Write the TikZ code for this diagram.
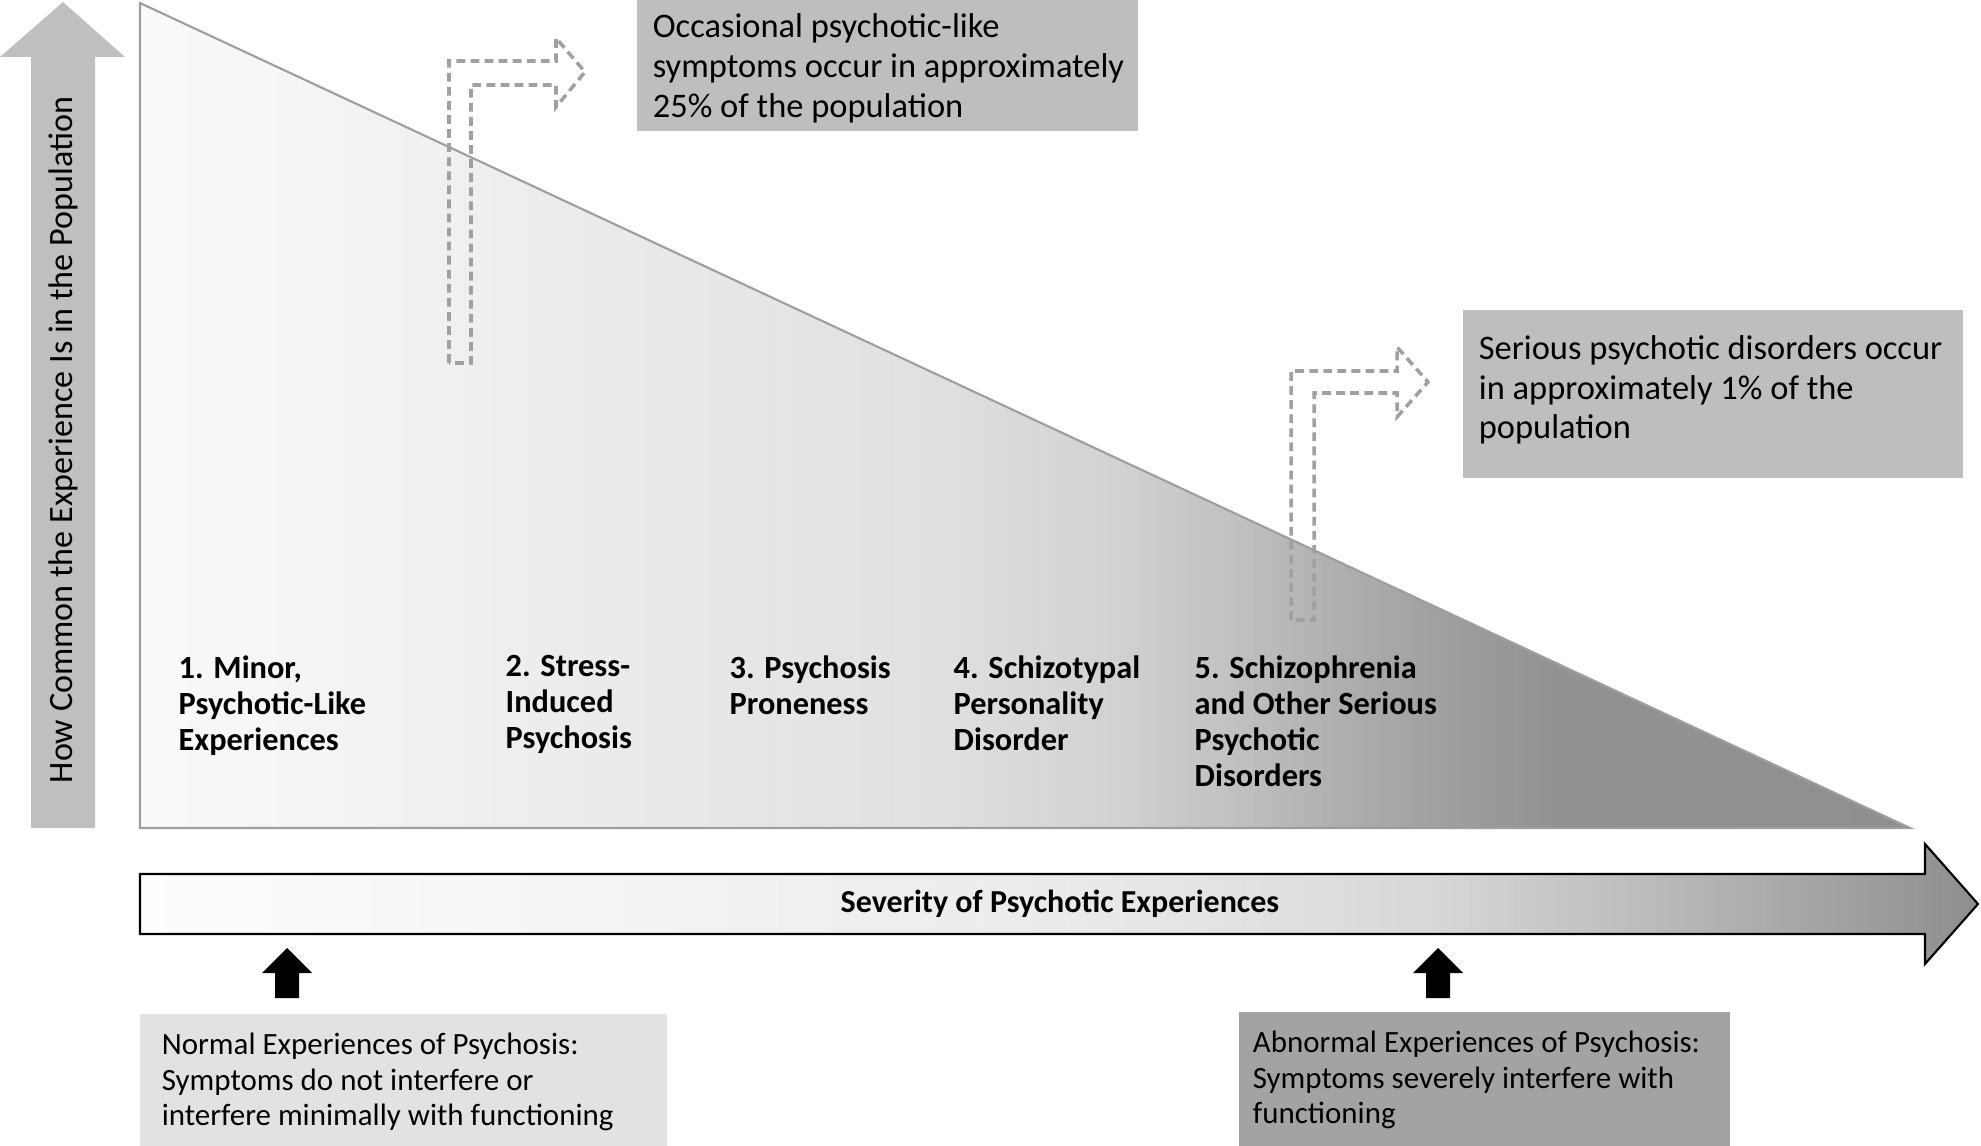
\documentclass[tikz,border=0pt]{standalone}
\usepackage{fontspec}
\setmainfont{Carlito}
\usetikzlibrary{positioning}

\definecolor{axisgray}{HTML}{BFBFBF}
\definecolor{boxgray}{HTML}{BEBEBE}
\definecolor{lightbox}{HTML}{E2E2E2}
\definecolor{darkbox}{HTML}{A3A3A3}
\definecolor{dashgray}{HTML}{A0A0A0}
\definecolor{edgegray}{HTML}{9E9E9E}
% gradient stops
\definecolor{ta}{HTML}{FAFAFA}
\definecolor{tb}{HTML}{EBEBEB}
\definecolor{tc}{HTML}{E0E0E0}
\definecolor{td}{HTML}{D2D2D2}
\definecolor{te}{HTML}{C0C0C0}
\definecolor{tf}{HTML}{AEAEAE}
\definecolor{tg}{HTML}{9C9C9C}
\definecolor{th}{HTML}{929292}
\definecolor{ti}{HTML}{8F8F8F}
\definecolor{ba}{HTML}{FDFDFD}
\definecolor{bb}{HTML}{EBEBEB}
\definecolor{bc}{HTML}{D8D8D8}
\definecolor{bd}{HTML}{B4B4B4}
\definecolor{be}{HTML}{8E8E8E}

\pgfdeclarehorizontalshading{trishade}{100bp}{color(0bp)=(ta); color(25bp)=(ta);
  color(38bp)=(tb); color(47.5bp)=(tc); color(52.5bp)=(td); color(56bp)=(te);
  color(59bp)=(tf); color(62.5bp)=(tg); color(65bp)=(th); color(75bp)=(ti); color(100bp)=(ti)}
\pgfdeclarehorizontalshading{barshade}{100bp}{color(0bp)=(ba); color(25bp)=(ba);
  color(50bp)=(bb); color(60bp)=(bc); color(67.5bp)=(bd); color(75bp)=(be); color(100bp)=(be)}

\newcommand\topfont{\fontsize{9.8}{11.3}\selectfont}
\newcommand\lowfont{\fontsize{8.8}{10.1}\selectfont}
\newcommand\stagefont{\fontsize{9.2}{10.2}\selectfont\bfseries}
\newcommand\barfont{\fontsize{9.1}{11}\selectfont\bfseries}
\newcommand\axisfont{\fontsize{9.7}{12}\selectfont}

\tikzset{
  stage/.style={anchor=north west, inner sep=0pt, align=left, font=\stagefont},
  infobox/.style={inner sep=0pt, draw=none},
  infotext/.style={inner sep=0pt, align=left},
  dasharrow/.style={draw=dashgray, line width=1pt, dash pattern=on 2.5pt off 1.5pt},
}

\begin{document}
\begin{tikzpicture}[x=0.01cm,y=-0.01cm]
    \useasboundingbox (0,0) rectangle (1981,1146);
    % how common axis
    \fill[axisgray] (31,828) -- (31,57) -- (0,57) -- (63,2) -- (125,57) -- (95,57) -- (95,828) -- cycle;
    \node[rotate=90, font=\axisfont] (common) at (63,440) {How Common the Experience Is in the Population};

    % population triangle
    \shadedraw[shading=trishade, draw=edgegray, line width=0.6pt] (140,3) -- (140,828) -- (1910,828) -- cycle;

    % dashed call-out arrows
    \draw[dasharrow] (449,363) -- (449,61) -- (556,61) -- (556,38) -- (585,72) -- (556,107) -- (556,85) -- (471,85) -- (471,363) -- cycle;
    \draw[dasharrow] (1291,620) -- (1291,371) -- (1397,371) -- (1397,347) -- (1428,382) -- (1397,417) -- (1397,393) -- (1314,393) -- (1314,620) -- cycle;

    \node[infobox, fill=boxgray, minimum width=5.01cm, minimum height=1.31cm] (occbox) at (887.5,65.5) {};
    \node[infotext, font=\topfont, right=0.16cm of occbox.west, yshift=-0.03cm] (occtext) {Occasional psychotic-like\\symptoms occur in approximately\\25\% of the population};
    \node[infobox, fill=boxgray, minimum width=5.00cm, minimum height=1.68cm] (serbox) at (1713,394) {};
    \node[infotext, font=\topfont, right=0.16cm of serbox.west, yshift=0.04cm] (sertext) {Serious psychotic disorders occur\\in approximately 1\% of the\\population};

    % stages
    \node[stage] (minor) at (178,655) {1. Minor,\\Psychotic-Like\\Experiences};
    \node[stage] (stress) at (505,655) {2. Stress-\\Induced\\Psychosis};
    \node[stage] (prone) at (729,655) {3. Psychosis\\Proneness};
    \node[stage] (schizotypal) at (953,655) {4. Schizotypal\\Personality\\Disorder};
    \node[stage] (schizo) at (1194,655) {5. Schizophrenia\\and Other Serious\\Psychotic\\Disorders};

    % severity axis
    \shadedraw[shading=barshade, draw=black, line width=0.6pt] (140,874) -- (1925,874) -- (1925,844) -- (1978,904) -- (1925,964) -- (1925,934) -- (140,934) -- cycle;
    \node[font=\barfont] (severity) at (1060,904) {Severity of Psychotic Experiences};

    % pointers to the severity axis
    \foreach \x in {287,1438}
        \fill (\x-12,998) -- (\x-12,973) -- (\x-25,973) -- (\x,948) -- (\x+25,973) -- (\x+12,973) -- (\x+12,998) -- cycle;

    \node[infobox, fill=lightbox, minimum width=5.27cm, minimum height=1.36cm] (normbox) at (403.5,1082) {};
    \node[infotext, font=\lowfont, right=0.22cm of normbox.west] (normtext) {Normal Experiences of Psychosis:\\Symptoms do not interfere or\\interfere minimally with functioning};
    \node[infobox, fill=darkbox, minimum width=4.91cm, minimum height=1.36cm] (abnbox) at (1484.5,1080) {};
    \node[infotext, font=\lowfont, right=0.14cm of abnbox.west] (abntext) {Abnormal Experiences of Psychosis:\\Symptoms severely interfere with\\functioning};
\end{tikzpicture}
\end{document}
